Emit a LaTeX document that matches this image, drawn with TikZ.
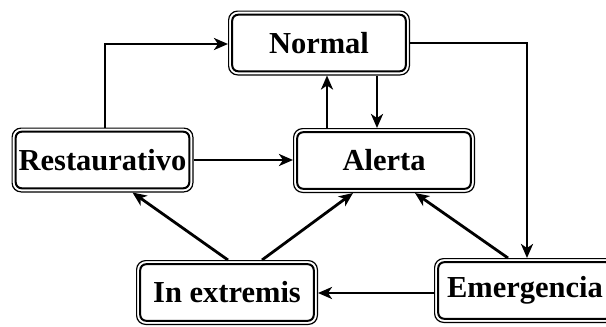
\documentclass[tikz,border=0pt]{standalone}
\usepackage{fontspec}
\setmainfont{Liberation Serif}
\usetikzlibrary{arrows.meta}
\begin{document}
\begin{tikzpicture}[x=1pt,y=-1pt,
  statebox/.style={draw=black, line width=2pt,
    rounded corners=6pt, minimum width=173.6pt, minimum height=56.6pt, inner sep=0pt,
    outer sep=4.2pt, font=\fontsize{30.5}{32}\selectfont\bfseries, fill=white},
  outerline/.style={draw=black, line width=1.2pt, rounded corners=9pt},
  arr/.style={line width=2.8pt, -{Stealth[length=14pt,width=12pt,inset=4pt]}}]
\useasboundingbox (0,0) rectangle (606,327);
\clip (0,0) rectangle (606,327);
\node[statebox] (nor) at (319,43) {Normal};
\node[statebox] (res) at (102.5,160) {Restaurativo};
\node[statebox] (ale) at (384,160.5) {Alerta};
\node[statebox] (ext) at (227,292.5) {In extremis};
\node[statebox] (eme) at (525,290.5) {Emergencia};
\foreach \n in {nor,res,ale,ext,eme}
  \draw[outerline] ([shift={(0.6pt,-0.6pt)}]\n.north west) rectangle ([shift={(-0.6pt,0.6pt)}]\n.south east);
% Restaurativo -> Normal
\coordinate (r1) at ([xshift=2.5pt]res.north);
\draw[arr] (r1) |- ([yshift=-1pt]nor.west);
% Normal -> Emergencia
\coordinate (n1) at ([xshift=2pt]eme.north);
\draw[arr] (nor.east) -| (n1);
% Alerta -> Normal
\coordinate (u1) at ([xshift=-57pt]ale.north);
\draw[arr] (u1) -- (u1 |- nor.south);
% Normal -> Alerta
\coordinate (d1) at ([xshift=58pt]nor.south);
\draw[arr] (d1) -- (d1 |- ale.north);
% Restaurativo -> Alerta
\draw[arr] (res.east) -- (res.east -| ale.west);
% In extremis -> Restaurativo
\draw[arr] ([xshift=1pt]ext.north) -- ([xshift=30pt]res.south);
% In extremis -> Alerta
\draw[arr] ([xshift=35pt]ext.north) -- ([xshift=-31pt]ale.south);
% Emergencia -> Alerta
\draw[arr] ([xshift=-17pt]eme.north) -- ([xshift=31pt]ale.south);
% Emergencia -> In extremis
\coordinate (e1) at ([yshift=-2.5pt]eme.west);
\draw[arr] (e1) -- (e1 -| ext.east);
\end{tikzpicture}
\end{document}
